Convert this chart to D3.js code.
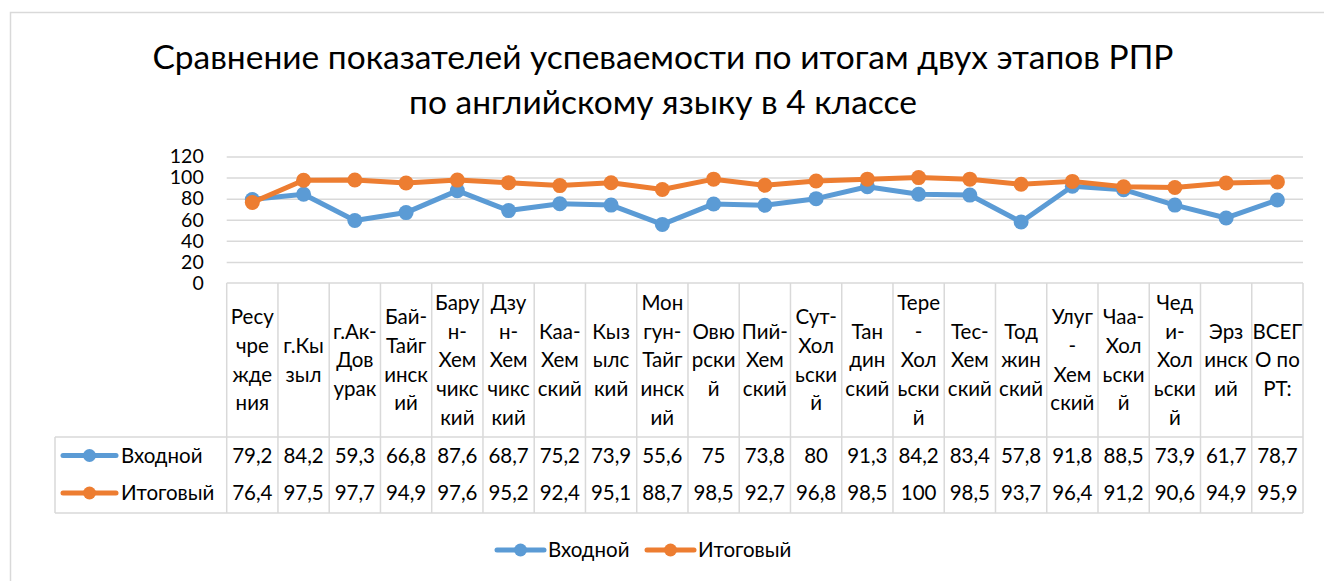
<!DOCTYPE html>
<html>
<head>
<meta charset="utf-8">
<script src="https://cdn.jsdelivr.net/npm/d3@7"></script>
<style>
  body { margin: 0; background: #fff; }
  svg { display: block; font-family: Lato, "Noto Sans", sans-serif; }
</style>
</head>
<body>
<svg width="1324" height="581"></svg>
<script>
// category labels, already wrapped the way the source chart wraps them
const categories = [
  ['Ресу','чре','жде','ния'],
  ['г.Кы','зыл'],
  ['г.Ак-','Дов','урак'],
  ['Бай-','Тайг','инск','ий'],
  ['Бару','н-','Хем','чикс','кий'],
  ['Дзу','н-','Хем','чикс','кий'],
  ['Каа-','Хем','ский'],
  ['Кыз','ылс','кий'],
  ['Мон','гун-','Тайг','инск','ий'],
  ['Овю','рски','й'],
  ['Пий-','Хем','ский'],
  ['Сут-','Хол','ьски','й'],
  ['Тан','дин','ский'],
  ['Тере','-','Хол','ьски','й'],
  ['Тес-','Хем','ский'],
  ['Тод','жин','ский'],
  ['Улуг','-','Хем','ский'],
  ['Чаа-','Хол','ьски','й'],
  ['Чед','и-','Хол','ьски','й'],
  ['Эрз','инск','ий'],
  ['ВСЕГ','О по','РТ:']
];
const vhodnoy = [79.2,84.2,59.3,66.8,87.6,68.7,75.2,73.9,55.6,75,73.8,80,91.3,84.2,83.4,57.8,91.8,88.5,73.9,61.7,78.7];
const itogovy = [76.4,97.5,97.7,94.9,97.6,95.2,92.4,95.1,88.7,98.5,92.7,96.8,98.5,100,98.5,93.7,96.4,91.2,90.6,94.9,95.9];
const yTicks = [0,20,40,60,80,100,120];
const titleLines = ['Сравнение показателей успеваемости по итогам двух этапов РПР',
                    'по английскому языку в 4 классе'];

const series = [
  {name: 'Входной', values: vhodnoy, color: '#5b9bd5'},
  {name: 'Итоговый', values: itogovy, color: '#ed7d31'}
];

const svg = d3.select('svg');
const grid = '#d9d9d9';
const fmt = v => String(v).replace('.', ',');

// chart frame (runs off the right and bottom of the page)
svg.append('rect')
  .attr('x', 10.5).attr('y', 12.5)
  .attr('width', 1400).attr('height', 700)
  .attr('fill', 'none').attr('stroke', grid).attr('stroke-width', 1.5);

// title
svg.append('text')
  .attr('text-anchor', 'middle')
  .attr('font-size', 33.5)
  .attr('fill', '#000')
  .selectAll('tspan').data(titleLines).join('tspan')
  .attr('x', 663)
  .attr('y', (d, i) => 69 + i * 45)
  .text(d => d);

const plotLeft = 226.7, plotRight = 1303;
const headTop = 283, headBottom = 437, tableBottom = 513;

const xscale = d3.scaleBand()
  .domain(d3.range(categories.length))
  .range([plotLeft, plotRight]);

const yscale = d3.scaleLinear()
  .domain([0, 120])
  .range([headTop, 156.5]);

// gridlines + y labels
const yAxis = d3.axisLeft(yscale)
  .tickValues(yTicks)
  .tickSize(-(plotRight - plotLeft))
  .tickPadding(23);

const yAxisG = svg.append('g')
  .attr('transform', `translate(${plotLeft},0)`)
  .call(yAxis);
yAxisG.select('.domain').remove();
yAxisG.selectAll('.tick line')
  .attr('stroke', grid).attr('stroke-width', 1.5)
  .filter(d => d === 0).remove();
yAxisG.selectAll('.tick text')
  .attr('font-size', 19.5).attr('fill', '#000')
  .attr('font-family', 'Lato, "Noto Sans", sans-serif');

// data table borders
const tbl = svg.append('g')
  .attr('stroke', grid).attr('stroke-width', 1.5).attr('fill', 'none');
tbl.append('line').attr('x1', plotLeft).attr('x2', plotRight).attr('y1', headTop).attr('y2', headTop);
tbl.append('line').attr('x1', 55).attr('x2', plotRight).attr('y1', headBottom).attr('y2', headBottom);
tbl.append('line').attr('x1', 55).attr('x2', plotRight).attr('y1', tableBottom).attr('y2', tableBottom);
tbl.append('line').attr('x1', 55).attr('x2', 55).attr('y1', headBottom).attr('y2', tableBottom);
tbl.selectAll('.col').data(d3.range(categories.length + 1)).join('line')
  .attr('x1', i => plotLeft + i * xscale.bandwidth())
  .attr('x2', i => plotLeft + i * xscale.bandwidth())
  .attr('y1', headTop).attr('y2', tableBottom);

// header labels
const lineH = 28.7;
svg.append('g').selectAll('text').data(categories).join('text')
  .attr('text-anchor', 'middle')
  .attr('font-size', 20.5)
  .attr('fill', '#000')
  .each(function (lines, i) {
    const cx = xscale(i) + xscale.bandwidth() / 2;
    const mid = (headTop + headBottom) / 2;
    d3.select(this).selectAll('tspan').data(lines).join('tspan')
      .attr('x', cx)
      .attr('y', (d, j) => mid + (j - (lines.length - 1) / 2) * lineH)
      .attr('dy', '0.36em')
      .text(d => d);
  });

// value rows
const rowY = [455.5, 493];
series.forEach((s, r) => {
  const row = svg.append('g');
  row.selectAll('text').data(s.values).join('text')
    .attr('x', (d, i) => xscale(i) + xscale.bandwidth() / 2)
    .attr('y', rowY[r])
    .attr('dy', '0.36em')
    .attr('text-anchor', 'middle')
    .attr('font-size', 20.5)
    .text(fmt);
  row.append('line')
    .attr('x1', 63).attr('x2', 116).attr('y1', rowY[r]).attr('y2', rowY[r])
    .attr('stroke', s.color).attr('stroke-width', 5).attr('stroke-linecap', 'round');
  row.append('circle').attr('cx', 89.5).attr('cy', rowY[r]).attr('r', 6.5).attr('fill', s.color);
  row.append('text')
    .attr('x', 121).attr('y', rowY[r]).attr('dy', '0.36em')
    .attr('font-size', 20.5)
    .text(s.name);
});

// lines and markers
const line = d3.line()
  .x((d, i) => xscale(i) + xscale.bandwidth() / 2)
  .y(d => yscale(d));

series.forEach(s => {
  const g = svg.append('g');
  g.append('path')
    .attr('d', line(s.values))
    .attr('fill', 'none')
    .attr('stroke', s.color)
    .attr('stroke-width', 5)
    .attr('stroke-linejoin', 'round')
    .attr('stroke-linecap', 'round');
  g.selectAll('circle').data(s.values).join('circle')
    .attr('cx', (d, i) => xscale(i) + xscale.bandwidth() / 2)
    .attr('cy', d => yscale(d))
    .attr('r', 7.5)
    .attr('fill', s.color);
});

// bottom legend
const legendY = 550;
const legendX = [497, 647];
series.forEach((s, i) => {
  const lg = svg.append('g').attr('transform', `translate(${legendX[i]},${legendY})`);
  lg.append('line').attr('x1', 0).attr('x2', 47)
    .attr('stroke', s.color).attr('stroke-width', 5).attr('stroke-linecap', 'round');
  lg.append('circle').attr('cx', 23.5).attr('r', 6.5).attr('fill', s.color);
  lg.append('text').attr('x', 51).attr('dy', '0.36em')
    .attr('font-size', 20.5).text(s.name);
});
</script>
</body>
</html>
